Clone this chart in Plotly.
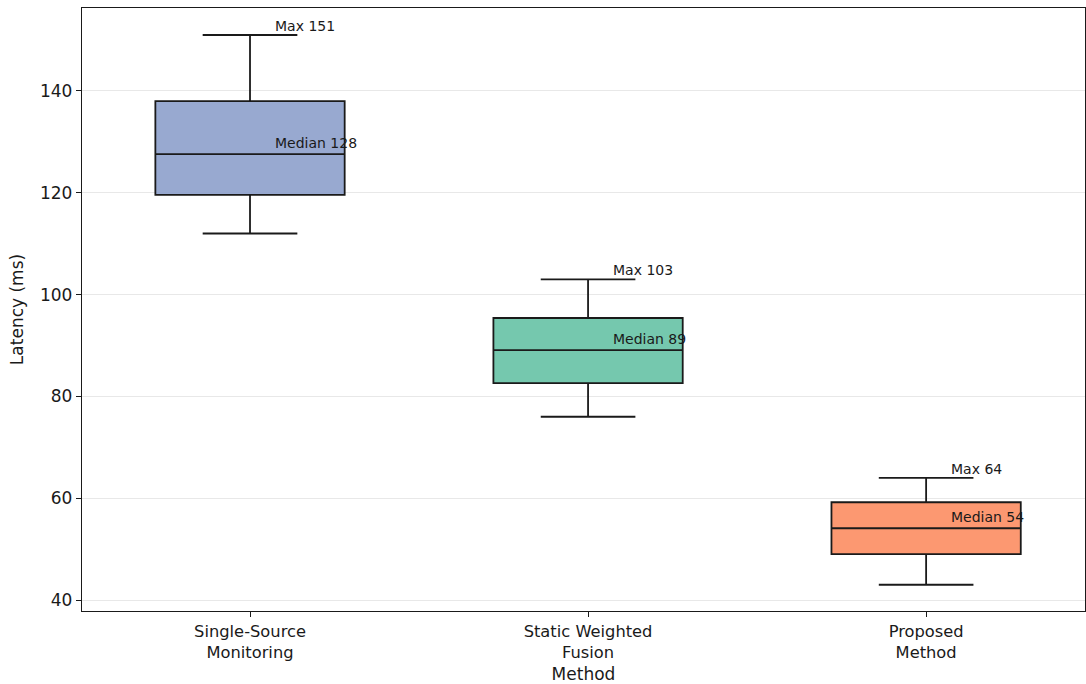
import plotly.graph_objects as go

# Latency distribution summary per method (ms)
methods = ["Single-Source<br>Monitoring", "Static Weighted<br>Fusion", "Proposed<br>Method"]
lower_whisker = [112, 76, 43]
q1 = [119.6, 82.6, 49.0]
medians = [127.6, 89.1, 54.1]
q3 = [138.0, 95.4, 59.2]
upper_whisker = [151, 103, 64]
fill_colors = ["rgba(141,160,203,0.9)", "rgba(102,194,165,0.9)", "rgba(252,141,98,0.9)"]

positions = list(range(len(methods)))

fig = go.Figure()
for i, pos in enumerate(positions):
    fig.add_trace(go.Box(
        x=[pos],
        q1=[q1[i]],
        median=[medians[i]],
        q3=[q3[i]],
        lowerfence=[lower_whisker[i]],
        upperfence=[upper_whisker[i]],
        width=0.56,
        whiskerwidth=0.5,
        fillcolor=fill_colors[i],
        line=dict(color="#1a1a1a", width=1.8),
        boxpoints=False,
        hoverinfo="skip",
        showlegend=False,
    ))
    fig.add_annotation(
        x=pos + 0.068, y=upper_whisker[i], text=f"Max {upper_whisker[i]:g}",
        showarrow=False, xanchor="left", yanchor="bottom", yshift=-1,
        font=dict(family="DejaVu Sans", size=14, color="#1a1a1a"),
    )
    fig.add_annotation(
        x=pos + 0.068, y=medians[i], text=f"Median {round(medians[i])}",
        showarrow=False, xanchor="left", yanchor="bottom", yshift=1,
        font=dict(family="DejaVu Sans", size=14, color="#1a1a1a"),
    )

fig.update_layout(
    width=1086, height=684,
    margin=dict(l=82, r=1, t=8, b=73),
    paper_bgcolor="white", plot_bgcolor="white",
    font=dict(family="DejaVu Sans", size=17, color="#1a1a1a"),
    xaxis=dict(
        range=[-0.497, 2.47],
        tickmode="array", tickvals=positions, ticktext=methods,
        tickfont=dict(size=16.3),
        showgrid=False, zeroline=False,
        showline=True, linecolor="#1a1a1a", linewidth=1.3, mirror=True,
        ticks="outside", ticklen=5, tickcolor="#1a1a1a",
        title=dict(text="Method", font=dict(size=17), standoff=10),
    ),
    yaxis=dict(
        range=[37.84, 156.3],
        tickmode="array", tickvals=[40, 60, 80, 100, 120, 140],
        showgrid=True, gridcolor="#e8e8e8", gridwidth=1, zeroline=False,
        showline=True, linecolor="#1a1a1a", linewidth=1.3, mirror=True,
        ticks="outside", ticklen=5, tickcolor="#1a1a1a",
        title=dict(text="Latency (ms)", font=dict(size=17), standoff=12),
    ),
)

fig.write_html("out.html")
